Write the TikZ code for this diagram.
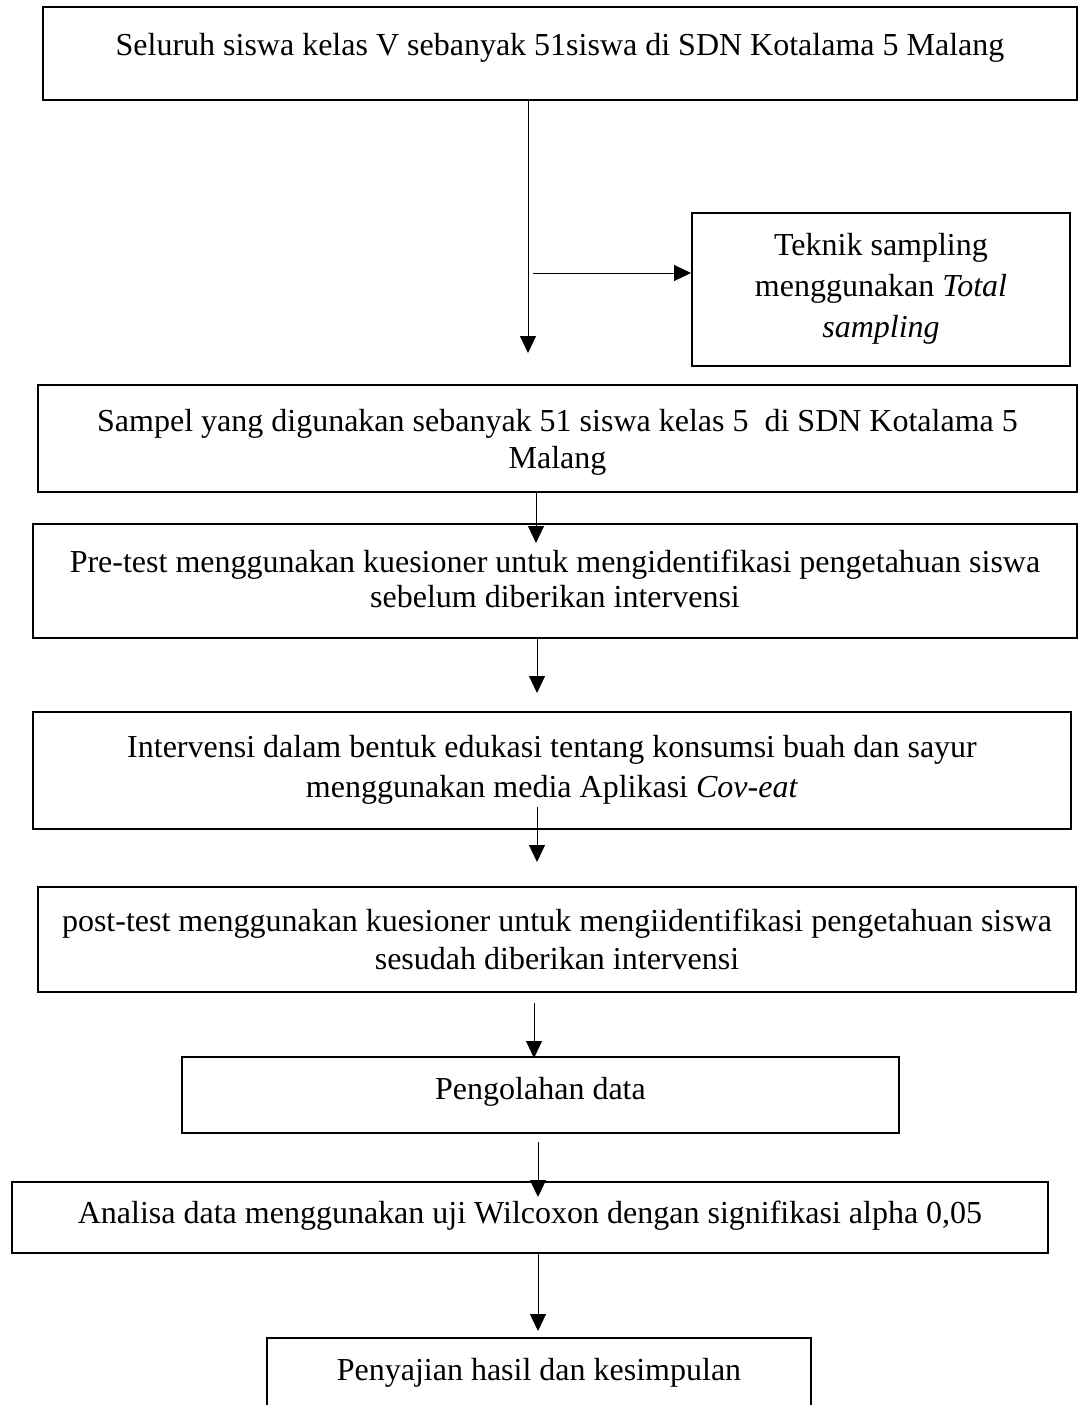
\documentclass[tikz,border=0pt]{standalone}
\usepackage{fontspec}
\setmainfont{Liberation Serif}
\usetikzlibrary{arrows.meta}
\begin{document}
\begin{tikzpicture}[x=0.5pt,y=-0.5pt,
  box/.style={draw=black,line width=1pt,rectangle,inner sep=0pt,fill=none},
  txt/.style={anchor=base,inner sep=0pt,font=\fontsize{16}{19}\selectfont},
  arr/.style={draw=black,line width=0.5pt,-{Triangle[length=8.5pt,width=8pt]}}]
\useasboundingbox (0,0) rectangle (1080,1405);
% boxes
\node[box,minimum width=517pt,minimum height=46.5pt] (b1) at (560,53.5) {};
\node[box,minimum width=189pt,minimum height=76.5pt] (b2) at (881,289.5) {};
\node[box,minimum width=519.5pt,minimum height=53.5pt] (b3) at (557.5,438.5) {};
\node[box,minimum width=522pt,minimum height=57pt] (b4) at (555,581) {};
\node[box,minimum width=519pt,minimum height=58.5pt] (b5) at (552,770.5) {};
\node[box,minimum width=519pt,minimum height=52.5pt] (b6) at (557,939.5) {};
\node[box,minimum width=358.5pt,minimum height=38pt] (b7) at (540.5,1095) {};
\node[box,minimum width=518pt,minimum height=35.5pt] (b8) at (530,1217.5) {};
\node[box,minimum width=272pt,minimum height=46pt] (b9) at (539,1384) {};
% texts
\node[txt] (t1) at (560,55) {Seluruh siswa kelas V sebanyak 51siswa di SDN Kotalama 5 Malang};
\node[txt,font=\fontsize{16}{20.5}\selectfont] (t2) at (881,255) {\begin{tabular}[t]{@{}c@{}}Teknik sampling\\menggunakan \textit{Total}\\\textit{sampling}\end{tabular}};
\node[txt,font=\fontsize{16}{18.5}\selectfont] (t3) at (557.5,431) {\begin{tabular}[t]{@{}c@{}}Sampel yang digunakan sebanyak 51 siswa kelas 5\ \ di SDN Kotalama 5\\Malang\end{tabular}};
\node[txt,font=\fontsize{16}{17.5}\selectfont] (t4) at (555,572) {\begin{tabular}[t]{@{}c@{}}Pre-test menggunakan kuesioner untuk mengidentifikasi pengetahuan siswa\\sebelum diberikan intervensi\end{tabular}};
\node[txt,font=\fontsize{16}{20}\selectfont] (t5) at (552,757) {\begin{tabular}[t]{@{}c@{}}Intervensi dalam bentuk edukasi tentang konsumsi buah dan sayur\\menggunakan media Aplikasi \textit{Cov-eat}\end{tabular}};
\node[txt,font=\fontsize{16}{19}\selectfont] (t6) at (557,931) {\begin{tabular}[t]{@{}c@{}}post-test menggunakan kuesioner untuk mengiidentifikasi pengetahuan siswa\\sesudah diberikan intervensi\end{tabular}};
\node[txt] (t7) at (540.5,1099) {Pengolahan data};
\node[txt] (t8) at (530,1223) {Analisa data menggunakan uji Wilcoxon dengan signifikasi alpha 0,05};
\node[txt] (t9) at (539,1380) {Penyajian hasil dan kesimpulan};
% connector end points
\coordinate (e1) at (528,353);
\coordinate (s2) at (533,273);
\coordinate (e3) at (536,543);
\coordinate (e4) at (537,693);
\coordinate (s5) at (537,807);
\coordinate (e5) at (537,862);
\coordinate (s6) at (534,1003);
\coordinate (e6) at (534,1058);
\coordinate (s7) at (538,1142);
\coordinate (e7) at (538,1197);
\coordinate (e8) at (538,1331);
% connectors
\draw[arr] (b1.south -| e1) -- (e1);
\draw[arr] (s2) -- (b2.west |- s2);
\draw[arr] (b3.south -| e3) -- (e3);
\draw[arr] (b4.south -| e4) -- (e4);
\draw[arr] (s5) -- (e5);
\draw[arr] (s6) -- (e6);
\draw[arr] (s7) -- (e7);
\draw[arr] (b8.south -| e8) -- (e8);
\end{tikzpicture}
\end{document}
